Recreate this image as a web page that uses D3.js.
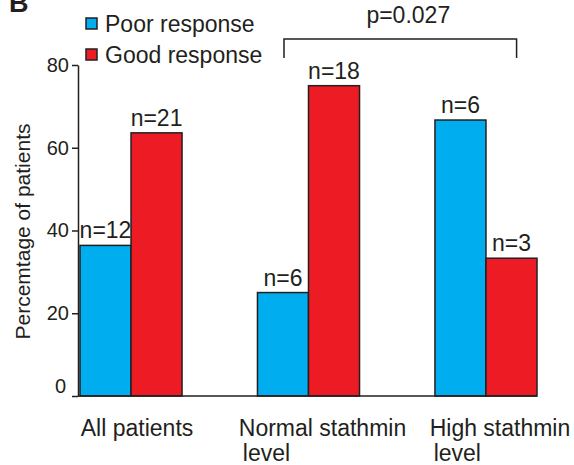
<!DOCTYPE html>
<html>
<head>
<meta charset="utf-8">
<script src="https://cdn.jsdelivr.net/npm/d3@7"></script>
<style>
  html, body { margin: 0; padding: 0; background: #fff; }
  svg { display: block; font-family: "Liberation Sans", Arial, sans-serif; }
</style>
</head>
<body>
<svg id="chart" width="574" height="465"></svg>
<script>
// ---- data ----
const categories = ["All patients", "Normal stathmin level", "High stathmin level"];
const categoryLines = [["All patients"], ["Normal stathmin", "level"], ["High stathmin", "level"]];
const series = ["Poor response", "Good response"];
const poorValues = [36.4, 25.0, 66.7];
const goodValues = [63.6, 75.0, 33.3];
const poorCounts = ["n=12", "n=6", "n=6"];
const goodCounts = ["n=21", "n=18", "n=3"];
const yTicks = [0, 20, 40, 60, 80];
const yTitle = "Percemtage of patients";
const pLabel = "p=0.027";
const panelLabel = "B";

// ---- layout ----
const ink = "#231f20";
const colors = ["#00aeef", "#ed1c24"];
const svg = d3.select("#chart");

const y = d3.scaleLinear().domain([0, 80]).range([396, 65]);
const x0 = d3.scaleBand().domain(categories).range([80, 537]).paddingInner(0.425).paddingOuter(0);
const x1 = d3.scaleBand().domain(series).range([0, x0.bandwidth()]);

const rows = categories.map((c, i) => ({
  cat: c,
  vals: [
    { s: series[0], v: poorValues[i], n: poorCounts[i] },
    { s: series[1], v: goodValues[i], n: goodCounts[i] }
  ]
}));

// panel label
svg.append("text").attr("x", 9).attr("y", 12)
  .attr("font-size", 27).attr("font-weight", "bold").attr("fill", ink)
  .text(panelLabel);

// bars
const g = svg.selectAll("g.grp").data(rows).join("g")
  .attr("class", "grp")
  .attr("transform", d => `translate(${x0(d.cat)},0)`);

g.selectAll("rect").data(d => d.vals).join("rect")
  .attr("x", d => x1(d.s))
  .attr("y", d => y(d.v))
  .attr("width", x1.bandwidth())
  .attr("height", d => y(0) - y(d.v))
  .attr("fill", (d, i) => colors[i])
  .attr("stroke", ink)
  .attr("stroke-width", 1.5);

g.selectAll("text.n").data(d => d.vals).join("text")
  .attr("class", "n")
  .attr("x", d => x1(d.s) + x1.bandwidth() / 2)
  .attr("y", d => y(d.v) - 7)
  .attr("text-anchor", "middle")
  .attr("font-size", 23)
  .attr("fill", ink)
  .text(d => d.n);

// baseline
svg.append("line")
  .attr("x1", 78).attr("x2", x0.range()[1])
  .attr("y1", y(0)).attr("y2", y(0))
  .attr("stroke", ink).attr("stroke-width", 1.5);

// y axis
const yAxis = svg.append("g").attr("transform", "translate(78,0)")
  .call(d3.axisLeft(y).tickValues(yTicks).tickSize(6).tickSizeOuter(0).tickPadding(3));
yAxis.select(".domain").attr("stroke", ink).attr("stroke-width", 1.5);
yAxis.selectAll(".tick line").attr("stroke", ink).attr("stroke-width", 1.5);
yAxis.selectAll(".tick text")
  .attr("font-size", 20).attr("fill", ink)
  .attr("font-family", "'Liberation Sans', Arial, sans-serif");
yAxis.selectAll(".tick").filter(d => d === 0).select("text")
  .attr("dx", -3).attr("dy", "-0.2em");

// y title
svg.append("text")
  .attr("transform", `translate(30,${(y(0) + y(80)) / 2 + 1}) rotate(-90)`)
  .attr("text-anchor", "middle")
  .attr("font-size", 21).attr("fill", ink)
  .text(yTitle);

// x labels
categories.forEach((c, i) => {
  const center = x0(c) + x0.bandwidth() / 2;
  const t = svg.append("text").attr("font-size", 23).attr("fill", ink).attr("y", 436);
  const lines = categoryLines[i];
  const first = t.append("tspan").text(lines[0]);
  const len = first.node().getComputedTextLength();
  const start = center - len / 2 + (i === 0 ? 6 : 14);
  first.attr("x", start);
  for (let k = 1; k < lines.length; k++) {
    t.append("tspan").attr("x", start + 4).attr("dy", 25).text(lines[k]);
  }
});

// legend
series.forEach((s, i) => {
  const ly = 24 + i * 31;
  svg.append("rect")
    .attr("x", 86).attr("y", ly - 6).attr("width", 11).attr("height", 11)
    .attr("fill", colors[i]).attr("stroke", ink).attr("stroke-width", 1.5);
  svg.append("text")
    .attr("x", 105).attr("y", ly + 7.5)
    .attr("font-size", 23).attr("fill", ink)
    .text(s);
});

// significance bracket between Normal stathmin and High stathmin groups
const bx1 = x0(categories[1]) + x1.bandwidth() / 2 + 1;
const bx2 = x0(categories[2]) + x1.bandwidth() * 1.6;
svg.append("path")
  .attr("d", `M${bx1},58 V39 H${bx2} V58`)
  .attr("fill", "none").attr("stroke", ink).attr("stroke-width", 1.5);
svg.append("text")
  .attr("x", (bx1 + bx2) / 2 + 8).attr("y", 23)
  .attr("text-anchor", "middle")
  .attr("font-size", 23).attr("fill", ink)
  .text(pLabel);
</script>
</body>
</html>
